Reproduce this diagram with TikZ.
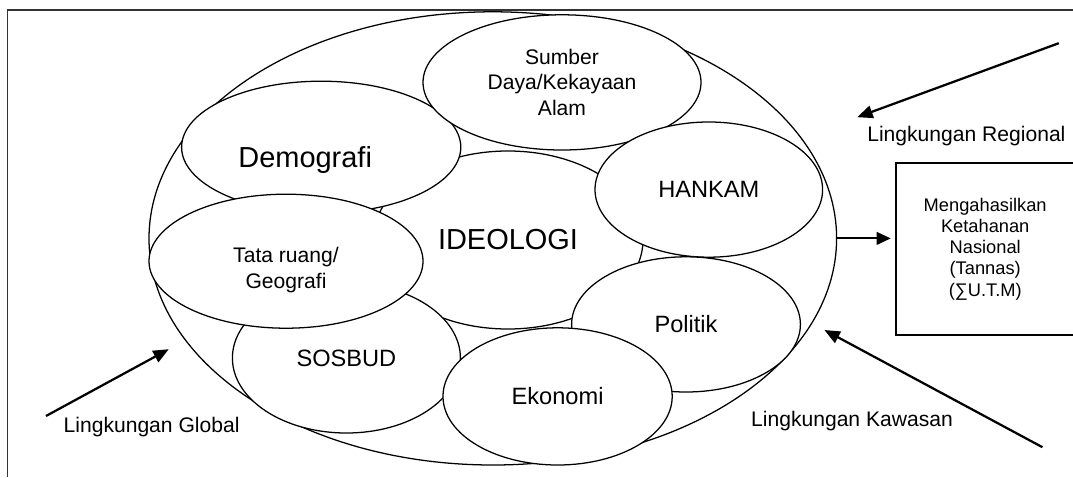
\documentclass[tikz,border=0pt]{standalone}
\usepackage{fontspec}
\setmainfont{Liberation Sans}
\usetikzlibrary{arrows.meta,shapes.geometric,positioning,calc}

\tikzset{
  oval/.style={ellipse,draw,line width=0.9pt,fill=white,inner sep=0pt,align=center},
  push/.style={line width=1.6pt,-{Triangle[length=11pt,width=9pt]}},
  smalltext/.style={font=\fontsize{15}{18}\selectfont},
  midtext/.style={font=\fontsize{16.8}{20}\selectfont},
  bigtext/.style={font=\fontsize{20.6}{24}\selectfont},
}

\begin{document}
\begin{tikzpicture}

\useasboundingbox (0,0) rectangle (26.825,-11.925);
\clip (0,0) rectangle (26.825,-11.925);

\draw[line width=1.2pt,black!80] (0.19,-11.925) -- (0.19,-0.25) -- (26.825,-0.25);

\node[oval,minimum width=17.19cm,minimum height=11.33cm] (outer) at (12.32,-5.96) {};
\node[oval,bigtext,minimum width=6.75cm,minimum height=4.45cm] (ideologi) at (12.70,-6.00) {IDEOLOGI};
\node[oval,minimum width=6.98cm,minimum height=3.30cm,label={[bigtext,shift={(-0.4,-0.33)}]center:Demografi}] (demografi) at (8.03,-3.68) {};
\node[oval,smalltext,minimum width=6.95cm,minimum height=3.38cm] (sumber) at (14.05,-2.06) {Sumber\\Daya/Kekayaan\\Alam};
\node[oval,midtext,minimum width=5.70cm,minimum height=3.75cm] (sosbud) at (8.66,-8.95) {SOSBUD};
\node[oval,minimum width=6.85cm,minimum height=3.35cm,label={[smalltext,align=center,shift={(0,-0.22)}]center:Tata ruang/\\Geografi}] (tataruang) at (7.15,-6.53) {};
\node[oval,midtext,minimum width=5.69cm,minimum height=3.38cm] (hankam) at (17.72,-4.74) {HANKAM};
\node[oval,midtext,minimum width=5.72cm,minimum height=3.38cm] (politik) at (17.15,-8.11) {Politik};
\node[oval,midtext,minimum width=5.73cm,minimum height=3.43cm] (ekonomi) at (13.94,-9.91) {Ekonomi};

\node[draw,line width=1.2pt,minimum width=4.47cm,minimum height=4.3cm,align=center,font=\fontsize{13}{15}\selectfont] (tannas) at (24.63,-6.23) {Mengahasilkan\\Ketahanan\\Nasional\\(Tannas)\\(∑U.T.M)};

\draw[line width=1.3pt,-{Triangle[length=10pt,width=9pt]},shorten >=3pt] (outer.east) -- (outer.east -| tannas.west);

\coordinate (globalfrom) at (1.15,-10.40);
\coordinate (globalto) at (4.22,-8.73);
\coordinate (regionalfrom) at (26.47,-1.08);
\coordinate (regionalto) at (21.43,-2.93);
\coordinate (kawasanfrom) at (26.06,-11.18);
\coordinate (kawasanto) at (20.61,-8.25);

\draw[push] (globalfrom) -- (globalto);
\draw[push] (regionalfrom) -- (regionalto);
\draw[push] (kawasanfrom) -- (kawasanto);

\node[smalltext] (globallabel) at (3.79,-10.68) {Lingkungan Global};
\node[smalltext] (regionallabel) at (24.16,-3.40) {Lingkungan Regional};
\node[smalltext] (kawasanlabel) at (21.30,-10.53) {Lingkungan Kawasan};

\end{tikzpicture}
\end{document}
